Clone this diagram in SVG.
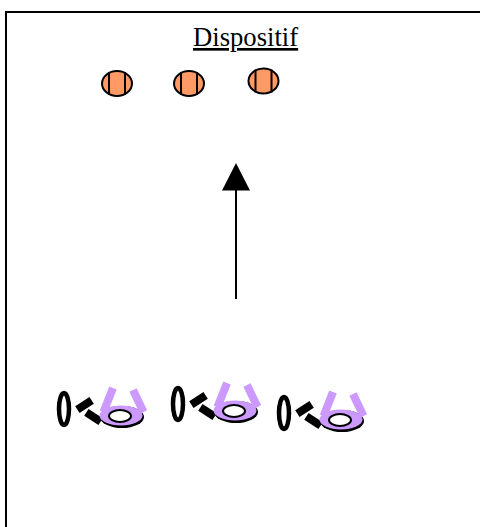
<svg xmlns="http://www.w3.org/2000/svg" width="480" height="527" viewBox="0 0 480 527">
<defs>
<style>
.o{fill:#FF9966;stroke:#000;stroke-width:2}
.l{stroke:#000;stroke-width:2;fill:none}
.b{fill:#000}
.p{fill:#CC99FF}
.t{font-family:"Liberation Serif","Times New Roman",serif;font-size:26.67px;fill:#000;text-decoration:underline}
</style>
<g id="orange"><ellipse class="o" cx="0" cy="0" rx="15" ry="12.5"/><path class="l" d="M-8-11.500V11.500M8-11.500V11.500"/></g>
<g id="person">
<ellipse cx="64" cy="409" rx="5" ry="16" fill="none" stroke="#000" stroke-width="4.500"/>
<rect class="b" x="76" y="401" width="17" height="8" transform="rotate(-33 84.500 405)"/>
<rect class="b" x="85" y="413" width="17" height="8" transform="rotate(33 93.500 417)"/>
<ellipse cx="122" cy="417" rx="22" ry="11" fill="#000"/>
<ellipse class="p" cx="121" cy="415.500" rx="21.500" ry="10"/>
<path d="M113 388 L103.500 412" stroke="#CC99FF" stroke-width="8" fill="none"/>
<path d="M133 390 L143.500 412" stroke="#CC99FF" stroke-width="8" fill="none"/>
<ellipse cx="120" cy="416" rx="11" ry="6" fill="#fff" stroke="#000" stroke-width="2"/>
</g>
</defs>
<rect width="480" height="527" fill="#fff"/>
<path id="frame" d="M6 527V12H480" fill="none" stroke="#000" stroke-width="2"/>
<text id="title" class="t" x="193" y="46">Dispositif</text>
<g id="orange-1"><use href="#orange" x="117" y="83.500"/></g>
<g id="orange-2"><use href="#orange" x="189" y="83.500"/></g>
<g id="orange-3"><use href="#orange" x="263.500" y="81"/></g>
<g id="connectors">
<path d="M236 188V299" stroke="#000" stroke-width="2" fill="none"/>
<path d="M236 163L250 190.500H222Z" fill="#000"/>
</g>
<g id="person-1"><use href="#person"/></g>
<g id="person-2"><use href="#person" x="114" y="-5"/></g>
<g id="person-3"><use href="#person" x="220" y="4"/></g>
</svg>
